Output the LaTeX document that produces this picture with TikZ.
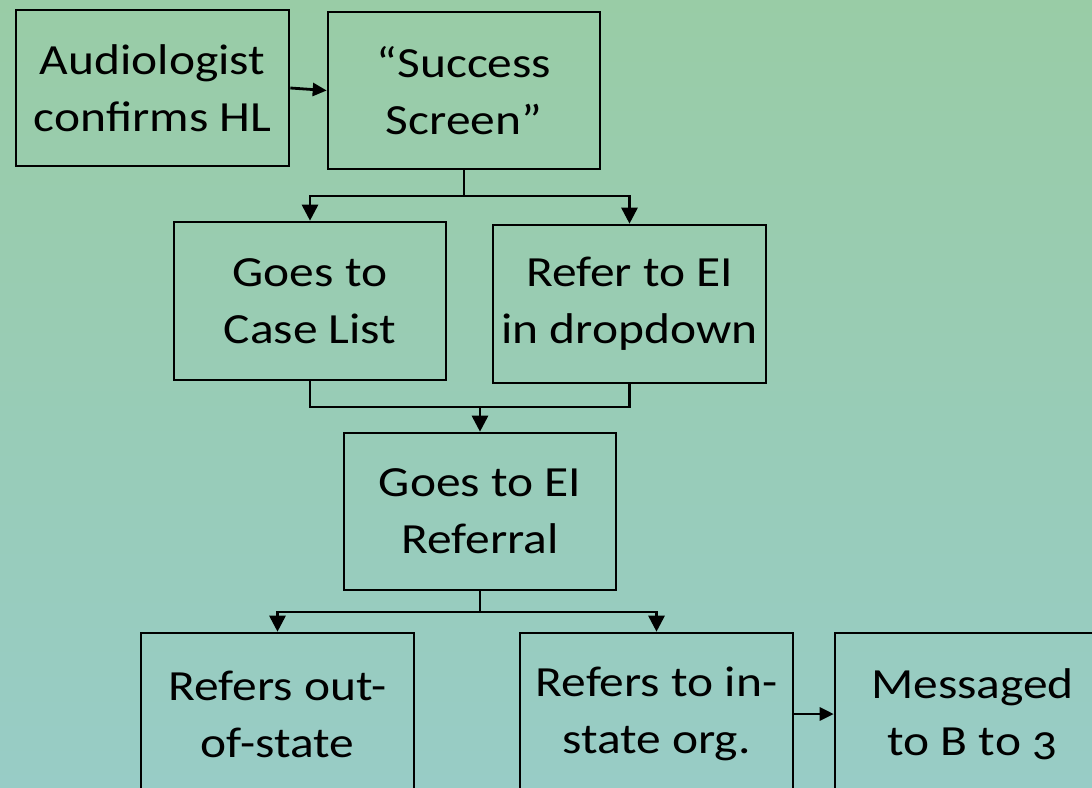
\documentclass[tikz,border=0pt]{standalone}
\usepackage{fontspec}
\setmainfont{Carlito}[FakeStretch=1.15,Numbers=OldStyle]
\usetikzlibrary{arrows.meta}
\definecolor{topc}{RGB}{153,204,166}
\definecolor{botc}{RGB}{152,204,198}
\tikzset{
  box/.style={draw=black, line width=2.6pt, align=center, inner sep=0pt,
    font=\fontsize{43}{57}\selectfont, text=black},
  conn/.style={draw=black, line width=2.8pt},
  arr/.style={conn, -{Triangle[length=16pt,width=16pt]}},
  harr/.style={conn, -{Triangle[length=14pt,width=13pt]}}
}
\begin{document}
\begin{tikzpicture}[x=1pt,y=-1pt]
\useasboundingbox (0,0) rectangle (1092,787);
\shade[top color=topc, bottom color=botc] (0,0) rectangle (1092,787);
\clip (0,0) rectangle (1092,787);
\node[box, minimum width=273pt, minimum height=156pt] (A) at (152.5,88) {Audiologist\\confirms HL};
\node[box, minimum width=272pt, minimum height=157pt] (S) at (464,90.5) {“Success\\Screen”};
\node[box, minimum width=272pt, minimum height=158pt] (C) at (310,301) {Goes to\\Case List};
\node[box, minimum width=273pt, minimum height=158pt] (R) at (629.5,304) {Refer to EI\\in dropdown};
\node[box, minimum width=272pt, minimum height=157pt] (E) at (480,511.5) {Goes to EI\\Referral};
\node[box, minimum width=273pt, minimum height=162pt] (O) at (277.5,714) {Refers out-\\of-state};
\node[box, minimum width=273pt, minimum height=162pt] (I) at (656.5,714) {Refers to in-\\state org.};
\node[box, minimum width=275pt, minimum height=162pt] (M) at (972.5,714) {Messaged\\to B to 3};
\coordinate (j1) at (464,196);
\coordinate (j2) at (480,407);
\coordinate (j3) at (480,612);
\draw[harr] (A.east) -- (S.west);
\draw[conn] (S.south) -- (j1);
\draw[arr] (j1) -| (C.north);
\draw[arr] (j1) -| (R.north);
\draw[conn] (C.south) |- (j2);
\draw[conn] (R.south) |- (j2);
\draw[arr] (j2) -- (E.north);
\draw[conn] (E.south) -- (j3);
\draw[arr] (j3) -| (O.north);
\draw[arr] (j3) -| (I.north);
\draw[harr] (I.east) -- (M.west);
\end{tikzpicture}
\end{document}
